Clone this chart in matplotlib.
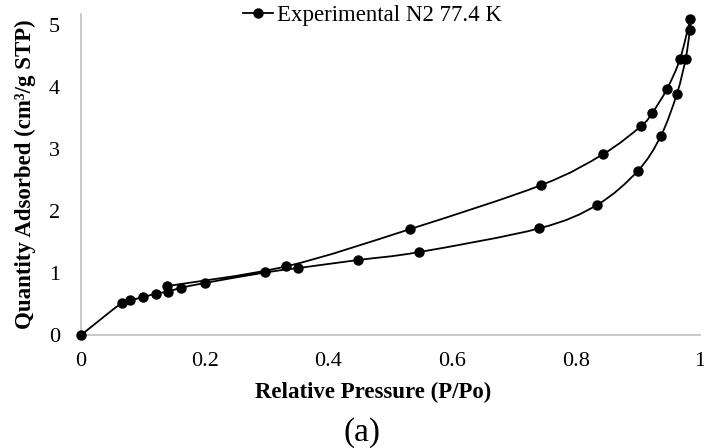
import numpy as np
import matplotlib
matplotlib.use("Agg")
import matplotlib.pyplot as plt
from matplotlib.path import Path
from matplotlib.patches import PathPatch
from matplotlib.lines import Line2D

# Isotherm: adsorption branch followed by desorption branch (one Excel series)
rel_pressure = [0.0, 0.066, 0.079, 0.100, 0.121, 0.140, 0.161, 0.200, 0.298, 0.350,
                0.447, 0.547, 0.740, 0.834, 0.900, 0.937, 0.963, 0.977, 0.984, 0.985,
                0.968, 0.947, 0.923, 0.905, 0.844, 0.744, 0.532, 0.332, 0.139]
quantity = [0.0, 0.52, 0.56, 0.61, 0.67, 0.70, 0.76, 0.84, 1.01, 1.08,
            1.21, 1.34, 1.72, 2.10, 2.65, 3.21, 3.89, 4.45, 4.92, 5.10,
            4.45, 3.97, 3.58, 3.37, 2.92, 2.42, 1.71, 1.11, 0.79]
series_label = "Experimental N2 77.4 K"
x_ticks = [0, 0.2, 0.4, 0.6, 0.8, 1]
x_tick_labels = ["0", "0.2", "0.4", "0.6", "0.8", "1"]
y_ticks = [0, 1, 2, 3, 4, 5]

plt.rcParams['font.family'] = ['Liberation Serif', 'DejaVu Serif']


def smooth_path(xs, ys):
    # Excel-style smoothed line: Catmull-Rom segments as cubic Bezier curves
    pts = np.column_stack([xs, ys])
    n = len(pts)
    verts = [pts[0]]
    codes = [Path.MOVETO]
    for i in range(n - 1):
        p0 = pts[i - 1] if i > 0 else pts[i]
        p1 = pts[i]
        p2 = pts[i + 1]
        p3 = pts[i + 2] if i + 2 < n else pts[i + 1]
        c1 = p1 + (p2 - p0) / 6.0
        c2 = p2 - (p3 - p1) / 6.0
        verts += [c1, c2, p2]
        codes += [Path.CURVE4] * 3
    return Path(verts, codes)


fig = plt.figure(figsize=(7.04, 4.48), dpi=100)
ax = fig.add_axes([0.115, 0.252, 0.879, 0.717])

ax.add_patch(PathPatch(smooth_path(rel_pressure, quantity), facecolor='none',
                       edgecolor='black', lw=1.3, zorder=2, clip_on=False))
ax.plot(rel_pressure, quantity, linestyle='none', marker='o', markersize=6.5,
        color='black', zorder=3, clip_on=False)

ax.set_xlim(0, 1)
ax.set_ylim(0, 5.18)
ax.set_xticks(x_ticks)
ax.set_xticklabels(x_tick_labels)
ax.set_yticks(y_ticks)
ax.tick_params(length=0, labelsize=16)
ax.tick_params(axis='x', pad=12)
ax.tick_params(axis='y', pad=15)

for side in ['top', 'right']:
    ax.spines[side].set_visible(False)
for side in ['left', 'bottom']:
    ax.spines[side].set_color('#bfbfbf')
    ax.spines[side].set_linewidth(1.2)

ax.set_xlabel("Relative Pressure (P/Po)", fontsize=16.5, fontweight='bold')
ax.xaxis.set_label_coords(0.472, -0.145)
ax.set_ylabel("Quantity Adsorbed (cm³/g STP)", fontsize=16.5, fontweight='bold')
ax.yaxis.set_label_coords(-0.072, 0.5)

handle = Line2D([0], [0], color='black', lw=1.3, marker='o', markersize=6.5)
fig.legend([handle], [series_label], loc='center', bbox_to_anchor=(0.529, 0.966),
           frameon=False, fontsize=16.5, handlelength=1.3, handletextpad=0.2)

fig.text(0.514, 0.034, "(a)", ha='center', va='center', fontsize=24)

fig.savefig("out.png", dpi=100)
